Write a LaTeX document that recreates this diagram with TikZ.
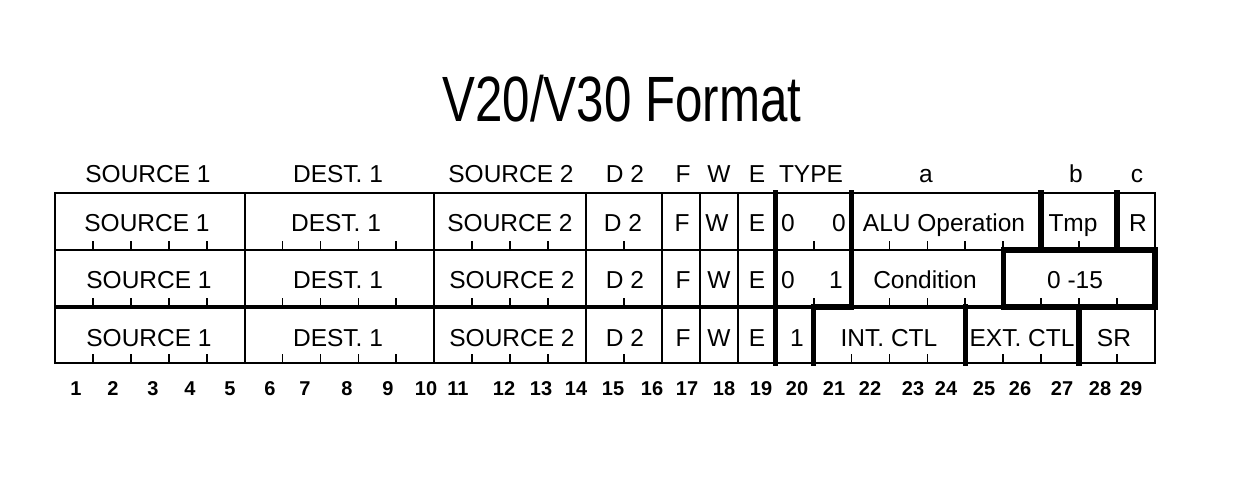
\documentclass[tikz,border=0pt]{standalone}
\usepackage{fontspec}
\usepackage{graphicx}
\setmainfont{Liberation Sans}
\newcommand{\bitx}[1]{55+#1*37.93}
\begin{document}
\begin{tikzpicture}[x=1pt,y=-1pt,
  thinl/.style={line width=2.2pt},
  thickl/.style={line width=5.5pt, line cap=rect},
  midl/.style={line width=3.2pt},
  tickl/.style={line width=1.8pt},
  lbl/.style={inner sep=0pt, anchor=base, font=\fontsize{24.5}{28}\selectfont},
  num/.style={inner sep=0pt, anchor=base, font=\bfseries\fontsize{20}{24}\selectfont},
]
\useasboundingbox (0,0) rectangle (1242,494);

% title
\node (title) [inner sep=0pt, anchor=base] at (622,122)
  {\scalebox{0.77}[1]{\fontsize{64}{70}\selectfont V20/V30 Format}};

% header labels
\node[lbl] (h1) at (148,183) {SOURCE 1};
\node[lbl] (h2) at (338,183) {DEST. 1};
\node[lbl] (h3) at (511,183) {SOURCE 2};
\node[lbl] (h4) at (625,183) {D 2};
\node[lbl] (h5) at (683,183) {F};
\node[lbl] (h6) at (719,183) {W};
\node[lbl] (h7) at (757,183) {E};
\node[lbl] (h8) at (811,183) {TYPE};
\node[lbl] (h9) at (926,183) {a};
\node[lbl] (h10) at (1076,183) {b};
\node[lbl] (h11) at (1137,183) {c};

% outer frame and row lines
\draw[thinl] ({\bitx{0}},193) rectangle ({\bitx{29}},363);
\draw[thinl] ({\bitx{0}},250) -- ({\bitx{29}},250);
\draw[midl] ({\bitx{0}},307) -- ({\bitx{29}},307);

% left part dividers (all rows)
\foreach \k in {5,10,14,16,17,18}
  \draw[thinl] ({\bitx{\k}},193) -- ({\bitx{\k}},363);

% ticks for left part (all rows)
\foreach \y in {250,307,363}
  \foreach \k in {1,2,3,4,6,7,8,9,11,12,13,15}
    \draw[tickl] ({\bitx{\k}},\y) -- ({\bitx{\k}},\y-9);

% right part ticks
\foreach \k in {20,22,23,24,25,27}
  \draw[tickl] ({\bitx{\k}},250) -- ({\bitx{\k}},241);
\foreach \k in {20,22,23,24,26,27,28}
  \draw[tickl] ({\bitx{\k}},307) -- ({\bitx{\k}},298);
\foreach \k in {21,22,23,25,26,28}
  \draw[tickl] ({\bitx{\k}},363) -- ({\bitx{\k}},354);

% thick field boundaries
\draw[thickl] ({\bitx{19}},193) -- ({\bitx{19}},363);
\draw[thickl] ({\bitx{21}},193) -- ({\bitx{21}},307) -- ({\bitx{20}},307) -- ({\bitx{20}},363);
\draw[thickl] ({\bitx{26}},193) -- ({\bitx{26}},250);
\draw[thickl] ({\bitx{28}},193) -- ({\bitx{28}},250);
\draw[thickl] ({\bitx{25}},250) rectangle ({\bitx{29}},307);
\draw[thickl] ({\bitx{24}},307) -- ({\bitx{24}},363);
\draw[thickl] ({\bitx{27}},307) -- ({\bitx{27}},363);

% row 1
\node[lbl] (r1a) at (147,232) {SOURCE 1};
\node[lbl] (r1b) at (336,232) {DEST. 1};
\node[lbl] (r1c) at (510,232) {SOURCE 2};
\node[lbl] (r1d) at (623,232) {D 2};
\node[lbl] (r1e) at (682,232) {F};
\node[lbl] (r1f) at (717,232) {W};
\node[lbl] (r1g) at (757,232) {E};
\node[lbl] (r1h) at (788,232) {0};
\node[lbl] (r1i) at (839,232) {0};
\node[lbl] (r1j) at (944,232) {ALU Operation};
\node[lbl] (r1k) at (1073,232) {Tmp};
\node[lbl] (r1l) at (1138,232) {R};

% row 2
\node[lbl] (r2a) at (149,289) {SOURCE 1};
\node[lbl] (r2b) at (338,289) {DEST. 1};
\node[lbl] (r2c) at (512,289) {SOURCE 2};
\node[lbl] (r2d) at (625,289) {D 2};
\node[lbl] (r2e) at (683,289) {F};
\node[lbl] (r2f) at (719,289) {W};
\node[lbl] (r2g) at (757,289) {E};
\node[lbl] (r2h) at (788,289) {0};
\node[lbl] (r2i) at (836,289) {1};
\node[lbl] (r2j) at (925,289) {Condition};
\node[lbl] (r2k) at (1075,289) {0 -15};

% row 3
\node[lbl] (r3a) at (149,346) {SOURCE 1};
\node[lbl] (r3b) at (338,346) {DEST. 1};
\node[lbl] (r3c) at (512,346) {SOURCE 2};
\node[lbl] (r3d) at (625,346) {D 2};
\node[lbl] (r3e) at (683,346) {F};
\node[lbl] (r3f) at (719,346) {W};
\node[lbl] (r3g) at (757,346) {E};
\node[lbl] (r3h) at (797,346) {1};
\node[lbl] (r3i) at (889,346) {INT. CTL};
\node[lbl] (r3j) at (1022,346) {EXT. CTL};
\node[lbl] (r3k) at (1114,346) {SR};

% bit numbers
\foreach \n/\x in {1/76,2/113,3/153,4/190,5/230,6/270,7/305,8/347,9/388,10/426,
  11/458,12/504,13/541,14/576,15/613,16/652,17/687,18/724,19/761,20/797,
  21/834,22/870,23/913,24/946,25/984,26/1020,27/1062,28/1100,29/1131}
  \node[num] (n\n) at (\x,395) {\n};
\end{tikzpicture}
\end{document}
